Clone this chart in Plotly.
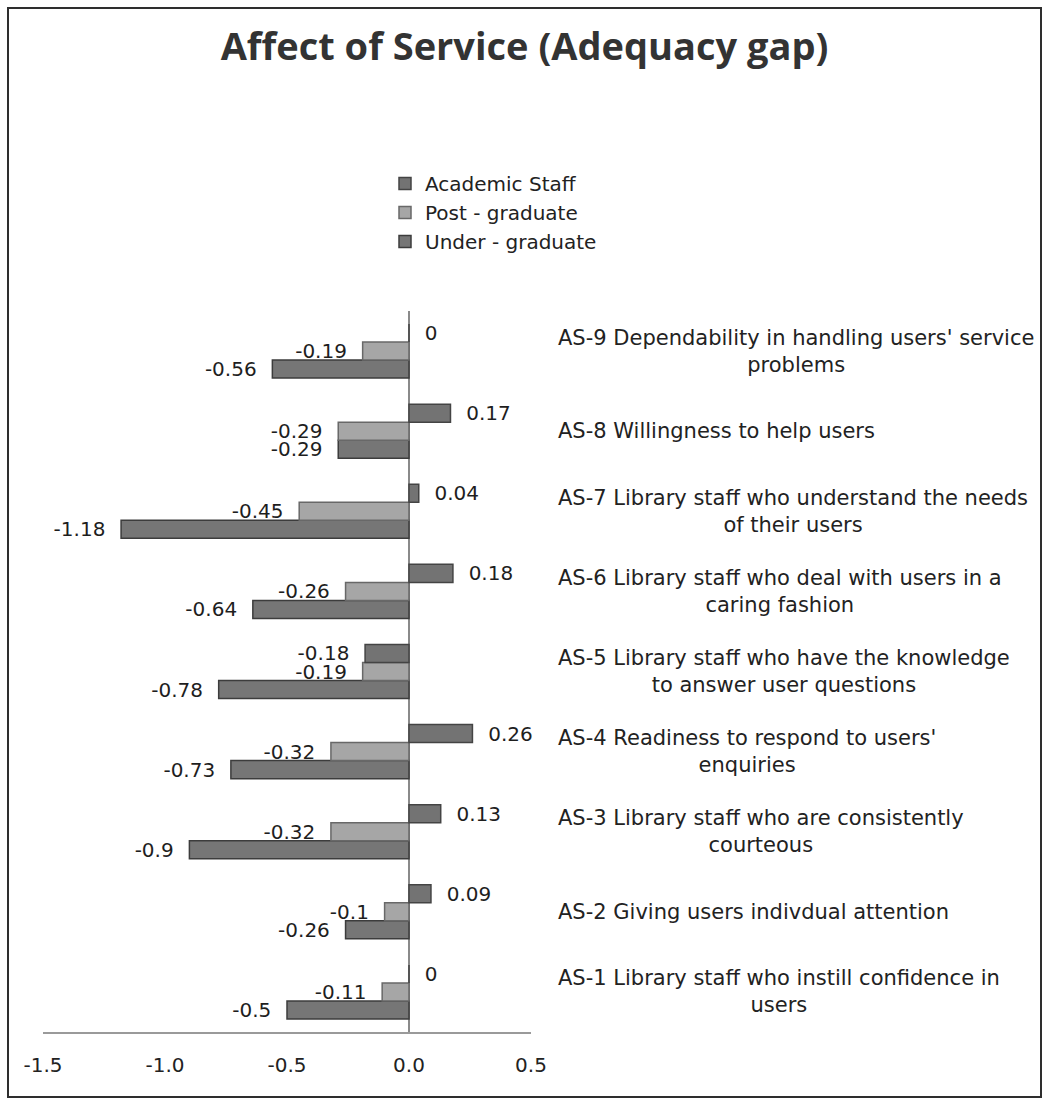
import plotly.graph_objects as go

# Adequacy-gap scores per service statement, bottom (AS-1) to top (AS-9)
codes = ["AS-1", "AS-2", "AS-3", "AS-4", "AS-5", "AS-6", "AS-7", "AS-8", "AS-9"]
statements = [
    "AS-1 Library staff who instill confidence in<br>users",
    "AS-2 Giving users indivdual attention",
    "AS-3 Library staff who are consistently<br>courteous",
    "AS-4 Readiness to respond to users'<br>enquiries",
    "AS-5 Library staff who have the knowledge<br>to answer user questions",
    "AS-6 Library staff who deal with users in a<br>caring fashion",
    "AS-7 Library staff who understand the needs<br>of their users",
    "AS-8 Willingness to help users",
    "AS-9 Dependability in handling users' service<br>problems",
]

academic_staff = [0, 0.09, 0.13, 0.26, -0.18, 0.18, 0.04, 0.17, 0]
post_graduate = [-0.11, -0.1, -0.32, -0.32, -0.19, -0.26, -0.45, -0.29, -0.19]
under_graduate = [-0.5, -0.26, -0.9, -0.73, -0.78, -0.64, -1.18, -0.29, -0.56]

x_ticks = [-1.5, -1.0, -0.5, 0.0, 0.5]
x_tick_text = ["-1.5", "-1.0", "-0.5", "0.0", "0.5"]

W, H = 1049, 1104
FONT = "DejaVu Sans, Verdana, sans-serif"
TITLE_FONT = "Open Sans, DejaVu Sans, sans-serif"
NB = "\u00a0"


def label(v):
    s = f"{v:g}"
    return (s + NB * 2) if v < 0 else (NB * 2 + s)


series = [
    # drawn bottom-to-top inside each group; rank sets legend order
    ("Under - graduate", under_graduate, "#767676", "#3c3c3c", 3),
    ("Post - graduate", post_graduate, "#a6a6a6", "#686868", 2),
    ("Academic Staff", academic_staff, "#737373", "#444444", 1),
]

fig = go.Figure()
for name, vals, fill, edge, rank in series:
    fig.add_trace(go.Bar(
        name=name,
        y=codes,
        x=vals,
        orientation="h",
        marker=dict(color=fill, line=dict(color=edge, width=1.5)),
        text=[label(v) for v in vals],
        textposition="outside",
        constraintext="none",
        cliponaxis=False,
        textfont=dict(family=FONT, size=20, color="#1e1e1e"),
        legendrank=rank,
    ))

# statement captions to the right of the plot, lines centred within each block
for code, text in zip(codes, statements):
    fig.add_annotation(
        x=556 / W, xref="paper", xanchor="left",
        y=code, yref="y", yanchor="middle",
        text=text, align="center", showarrow=False,
        font=dict(family=FONT, size=21, color="#222222"),
    )

# outer chart frame
fig.add_shape(type="rect", xref="paper", yref="paper",
              x0=8 / W, x1=1041 / W, y0=1 - 1097 / H, y1=1 - 8 / H,
              line=dict(color="#2e2e2e", width=2), fillcolor="rgba(0,0,0,0)")

fig.update_layout(
    width=W, height=H,
    margin=dict(l=0, r=0, t=0, b=0, autoexpand=False),
    paper_bgcolor="white", plot_bgcolor="white",
    barmode="group", bargap=0.325, bargroupgap=0,
    title=dict(text="<b>Affect of Service (Adequacy gap)</b>",
               x=0.5, xanchor="center", y=1 - 47 / H, yanchor="middle",
               font=dict(family=TITLE_FONT, size=38, color="#333333")),
    legend=dict(x=385 / W, xanchor="left", y=1 - 164 / H, yanchor="top",
                traceorder="normal", itemwidth=30,
                font=dict(family=FONT, size=20, color="#222222"),
                bgcolor="rgba(0,0,0,0)"),
    xaxis=dict(domain=[43 / W, 531 / W], range=[-1.5, 0.5],
               tickvals=x_ticks, ticktext=x_tick_text,
               showgrid=False, zeroline=True, zerolinecolor="#8a8a8a", zerolinewidth=1.5,
               showline=True, linecolor="#9a9a9a", linewidth=1.5,
               ticks="", ticklabelstandoff=14,
               tickfont=dict(family=FONT, size=20, color="#222222")),
    yaxis=dict(domain=[1 - 1032 / H, 1 - 311 / H], type="category",
               categoryorder="array", categoryarray=codes,
               showticklabels=False, showgrid=False, zeroline=False, showline=False, ticks=""),
    showlegend=True,
)

fig.write_html("out.html")
